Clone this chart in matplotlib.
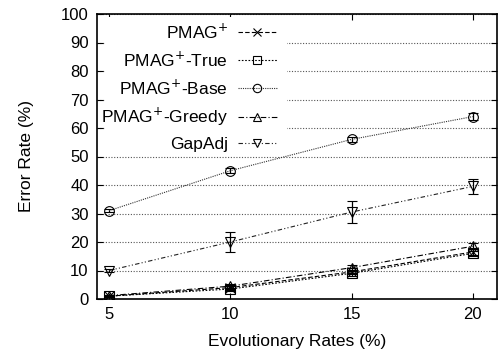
import matplotlib
matplotlib.use("Agg")
import matplotlib.pyplot as plt
from matplotlib.lines import Line2D
from matplotlib.patches import Rectangle

plt.rcParams['font.family'] = ['Liberation Sans', 'DejaVu Sans']

rates = [5, 10, 15, 20]
pmag = [1.0, 4.0, 9.5, 16.5]
pmag_err = [0.3, 0.5, 0.8, 1.0]
pmag_true = [1.0, 3.5, 9.0, 16.0]
pmag_true_err = [0.3, 0.5, 0.8, 1.0]
pmag_base = [31.0, 45.0, 56.0, 64.0]
pmag_base_err = [0.5, 0.8, 0.8, 1.2]
pmag_greedy = [1.2, 4.5, 11.0, 18.5]
pmag_greedy_err = [0.3, 0.5, 0.8, 1.0]
gapadj = [10.0, 20.0, 30.5, 39.5]
gapadj_err = [0.5, 3.5, 4.0, 2.5]

labels = ['PMAG$^{+}$', 'PMAG$^{+}$-True', 'PMAG$^{+}$-Base', 'PMAG$^{+}$-Greedy', 'GapAdj']
yticks = [0, 10, 20, 30, 40, 50, 60, 70, 80, 90, 100]
xticks = [5, 10, 15, 20]

fig = plt.figure(figsize=(4.99, 3.59), dpi=100)
ax = fig.add_axes([97/499, 1-299/359, 400/499, 285/359])

series = [
    (pmag, pmag_err, 'x', (0, (4, 2)), '#000000'),
    (pmag_true, pmag_true_err, 's', (0, (1.5, 1.5)), '#000000'),
    (pmag_base, pmag_base_err, 'o', (0, (1, 1)), '#333333'),
    (pmag_greedy, pmag_greedy_err, '^', (0, (5, 2, 1, 2)), '#000000'),
    (gapadj, gapadj_err, 'v', (0, (4, 2, 1, 2, 1, 2)), '#222222'),
]
handles = []
for (vals, errs, m, ls, c), lab in zip(series, labels):
    ax.errorbar(rates, vals, yerr=errs, color=c, lw=0.8, linestyle=ls,
                marker=m, markersize=7, markerfacecolor='none', markeredgecolor='black',
                markeredgewidth=0.8, ecolor='black', elinewidth=0.9, capsize=3.5,
                zorder=3)
    handles.append(Line2D([], [], color=c, lw=0.8, linestyle=ls, marker=m,
                          markersize=6, markerfacecolor='none', markeredgecolor='black',
                          markeredgewidth=0.8))

ax.set_xlim(4.5, 21)
ax.set_ylim(0, 100)
ax.set_xticks(xticks)
ax.set_yticks(yticks)
ax.yaxis.grid(True, linestyle=(0, (1, 1.5)), color='#555555', lw=0.8)
ax.set_axisbelow(True)
ax.tick_params(direction='in', top=True, right=True, length=4, labelsize=12, width=0.8, pad=6)
for s in ax.spines.values():
    s.set_linewidth(1.2)
ax.set_xlabel('Evolutionary Rates (%)', fontsize=12.5)
ax.set_ylabel('Error Rate (%)', fontsize=12.5)
ax.xaxis.set_label_coords(0.5, -(334-299)/285)
ax.yaxis.set_label_coords(-(97-34)/400, 0.5)

# white box behind the legend hiding the grid
ax.add_patch(Rectangle(((105-97)/400, 0.53), (287-105)/400, 0.46,
                       transform=ax.transAxes, facecolor='white', edgecolor='none', zorder=1))

leg = ax.legend(handles, labels, loc='upper right', bbox_to_anchor=((277-97)/400, (299-22)/285),
                markerfirst=False, frameon=False, fontsize=12.5, handlelength=2.25,
                labelspacing=0.5, borderpad=0.0, handletextpad=0.57, borderaxespad=0.0)

fig.savefig('out.png', dpi=100)
